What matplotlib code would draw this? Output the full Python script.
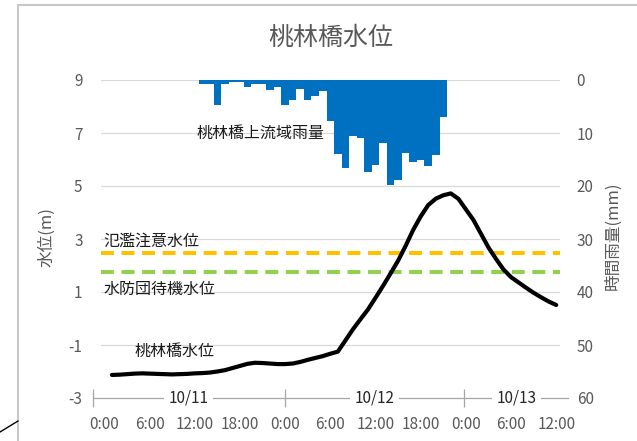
import matplotlib
matplotlib.use("Agg")
import matplotlib.pyplot as plt
from matplotlib.patches import Rectangle
from matplotlib.lines import Line2D

plt.rcParams['font.family'] = ['Noto Sans CJK JP', 'DejaVu Sans']
plt.rcParams['axes.unicode_minus'] = False

TITLE = "桃林橋水位"

# hourly rain (mm), hours counted from 10/11 0:00
RAIN_HOURS = list(range(13, 46))
RAIN_MM = [0.8, 0.8, 4.7, 0.8, 0.3, 0.3, 1.3, 0.8, 0.8, 1.9, 1.3, 4.7, 3.8, 1.7, 3.8, 3.1,
           2.0, 7.8, 14.0, 16.6, 10.6, 10.9, 17.3, 16.0, 11.8, 19.8, 18.9, 13.8, 15.4,
           15.0, 16.3, 14.2, 7.0]

# water level (m)
LEVEL_HOURS = list(range(1, 61))
LEVEL_M = [-2.13, -2.12, -2.10, -2.08, -2.07, -2.08, -2.09, -2.10, -2.11, -2.10,
           -2.09, -2.07, -2.06, -2.04, -2.00, -1.95, -1.87, -1.79, -1.71, -1.67,
           -1.68, -1.70, -1.72, -1.72, -1.70, -1.64, -1.56, -1.49, -1.42, -1.33,
           -1.25, -0.83, -0.41, -0.03, 0.34, 0.78, 1.23, 1.70, 2.18, 2.74,
           3.34, 3.85, 4.28, 4.52, 4.65, 4.72, 4.52, 4.12, 3.72, 3.20,
           2.68, 2.25, 1.85, 1.56, 1.36, 1.16, 0.97, 0.80, 0.64, 0.51]

FLOOD_WARN = 2.49    # 氾濫注意水位
STANDBY = 1.77       # 水防団待機水位

TIME_TICKS = list(range(0, 61, 6))
TIME_LABELS = ["0:00", "6:00", "12:00", "18:00"] * 2 + ["0:00", "6:00", "12:00"]
DAY_LABELS = ["10/11", "10/12", "10/13"]
DAY_BOUNDS = [-1.56, 24.0, 47.8, 61.6]

Y_TICKS = [-3, -1, 1, 3, 5, 7, 9]
Y2_TICKS = [0, 10, 20, 30, 40, 50, 60]

GRAY = "#595959"
GRID = "#D9D9D9"

fig = plt.figure(figsize=(6.37, 4.41), dpi=100)
fig.patch.set_facecolor("white")

# chart area frame (screenshot crop)
fig.patches.append(Rectangle((18 / 637, -0.1), 1.2, (441 - 5) / 441 + 0.1,
                             transform=fig.transFigure, fill=False,
                             edgecolor="#C8C8C8", linewidth=1.5))
fig.lines.append(Line2D([0, 18 / 637], [1 - 432 / 441, 1 - 421 / 441],
                        transform=fig.transFigure, color="black", linewidth=1.0))

ax = fig.add_axes([100.6 / 637, 1 - 398 / 441, 459.4 / 637, 318 / 441])
ax.set_xlim(-0.5, 60.5)
ax.set_ylim(-3, 9)
for s in ax.spines.values():
    s.set_visible(False)

for y in Y_TICKS[1:]:
    ax.axhline(y, color=GRID, linewidth=0.9, zorder=1)

ax.axhline(FLOOD_WARN, color="#FFC000", linewidth=2.9, dashes=(3.2, 1.9), zorder=2)
ax.axhline(STANDBY, color="#92D050", linewidth=2.9, dashes=(3.2, 1.9), zorder=2)

ax.plot(LEVEL_HOURS, LEVEL_M, color="black", linewidth=3.0, zorder=4,
        solid_joinstyle="round", solid_capstyle="round")

# category axis with day groups
ax.plot([DAY_BOUNDS[0], DAY_BOUNDS[-1]], [-3, -3], color="#A6A6A6", linewidth=0.9,
        clip_on=False, zorder=3)
ax.vlines(DAY_BOUNDS[:-1], -3.34, -2.66, color="#A6A6A6", linewidth=0.9,
          clip_on=False, zorder=3)
for i, lab in enumerate(DAY_LABELS):
    xm = (DAY_BOUNDS[i] + DAY_BOUNDS[i + 1]) / 2
    ax.text(xm, -3, lab, ha="center", va="center", fontsize=11, color="#262626",
            zorder=5, clip_on=False,
            bbox=dict(boxstyle="square,pad=0.3", facecolor="white", edgecolor="none"))

ax.set_xticks(TIME_TICKS)
ax.set_xticklabels(TIME_LABELS)
ax.tick_params(axis="x", length=0, pad=13, labelsize=11, labelcolor=GRAY)
ax.set_yticks(Y_TICKS)
ax.tick_params(axis="y", length=0, pad=13, labelsize=11, labelcolor=GRAY)

ax2 = ax.twinx()
ax2.set_ylim(60, 0)
for s in ax2.spines.values():
    s.set_visible(False)
ax2.bar(RAIN_HOURS, RAIN_MM, width=1.0, color="#0070C0", linewidth=0, zorder=3)
ax2.set_yticks(Y2_TICKS)
ax2.tick_params(axis="y", length=0, pad=12, labelsize=11, labelcolor=GRAY)

# labels inside plot
ax.text(12.2, 7.0, "桃林橋上流域雨量", fontsize=11.5, color="#1A1A1A", va="center", zorder=6)
ax.text(-0.1, 2.93, "氾濫注意水位", fontsize=11.5, color="#1A1A1A", va="center", zorder=6)
ax.text(-0.1, 1.1, "水防団待機水位", fontsize=11.5, color="#1A1A1A", va="center", zorder=6)
ax.text(4.06, -1.26, "桃林橋水位", fontsize=11.5, color="#1A1A1A", va="center", zorder=6)

fig.text(331 / 637, 1 - 38 / 441, TITLE, fontsize=18, color=GRAY, ha="center", va="center")
fig.text(47 / 637, 1 - 237 / 441, "水位(m)", fontsize=12, color=GRAY, rotation=90,
         ha="center", va="center")
fig.text(613 / 637, 1 - 236 / 441, "時間雨量(mm)", fontsize=12, color=GRAY, rotation=90,
         ha="center", va="center")

fig.savefig("out.png", dpi=100)
